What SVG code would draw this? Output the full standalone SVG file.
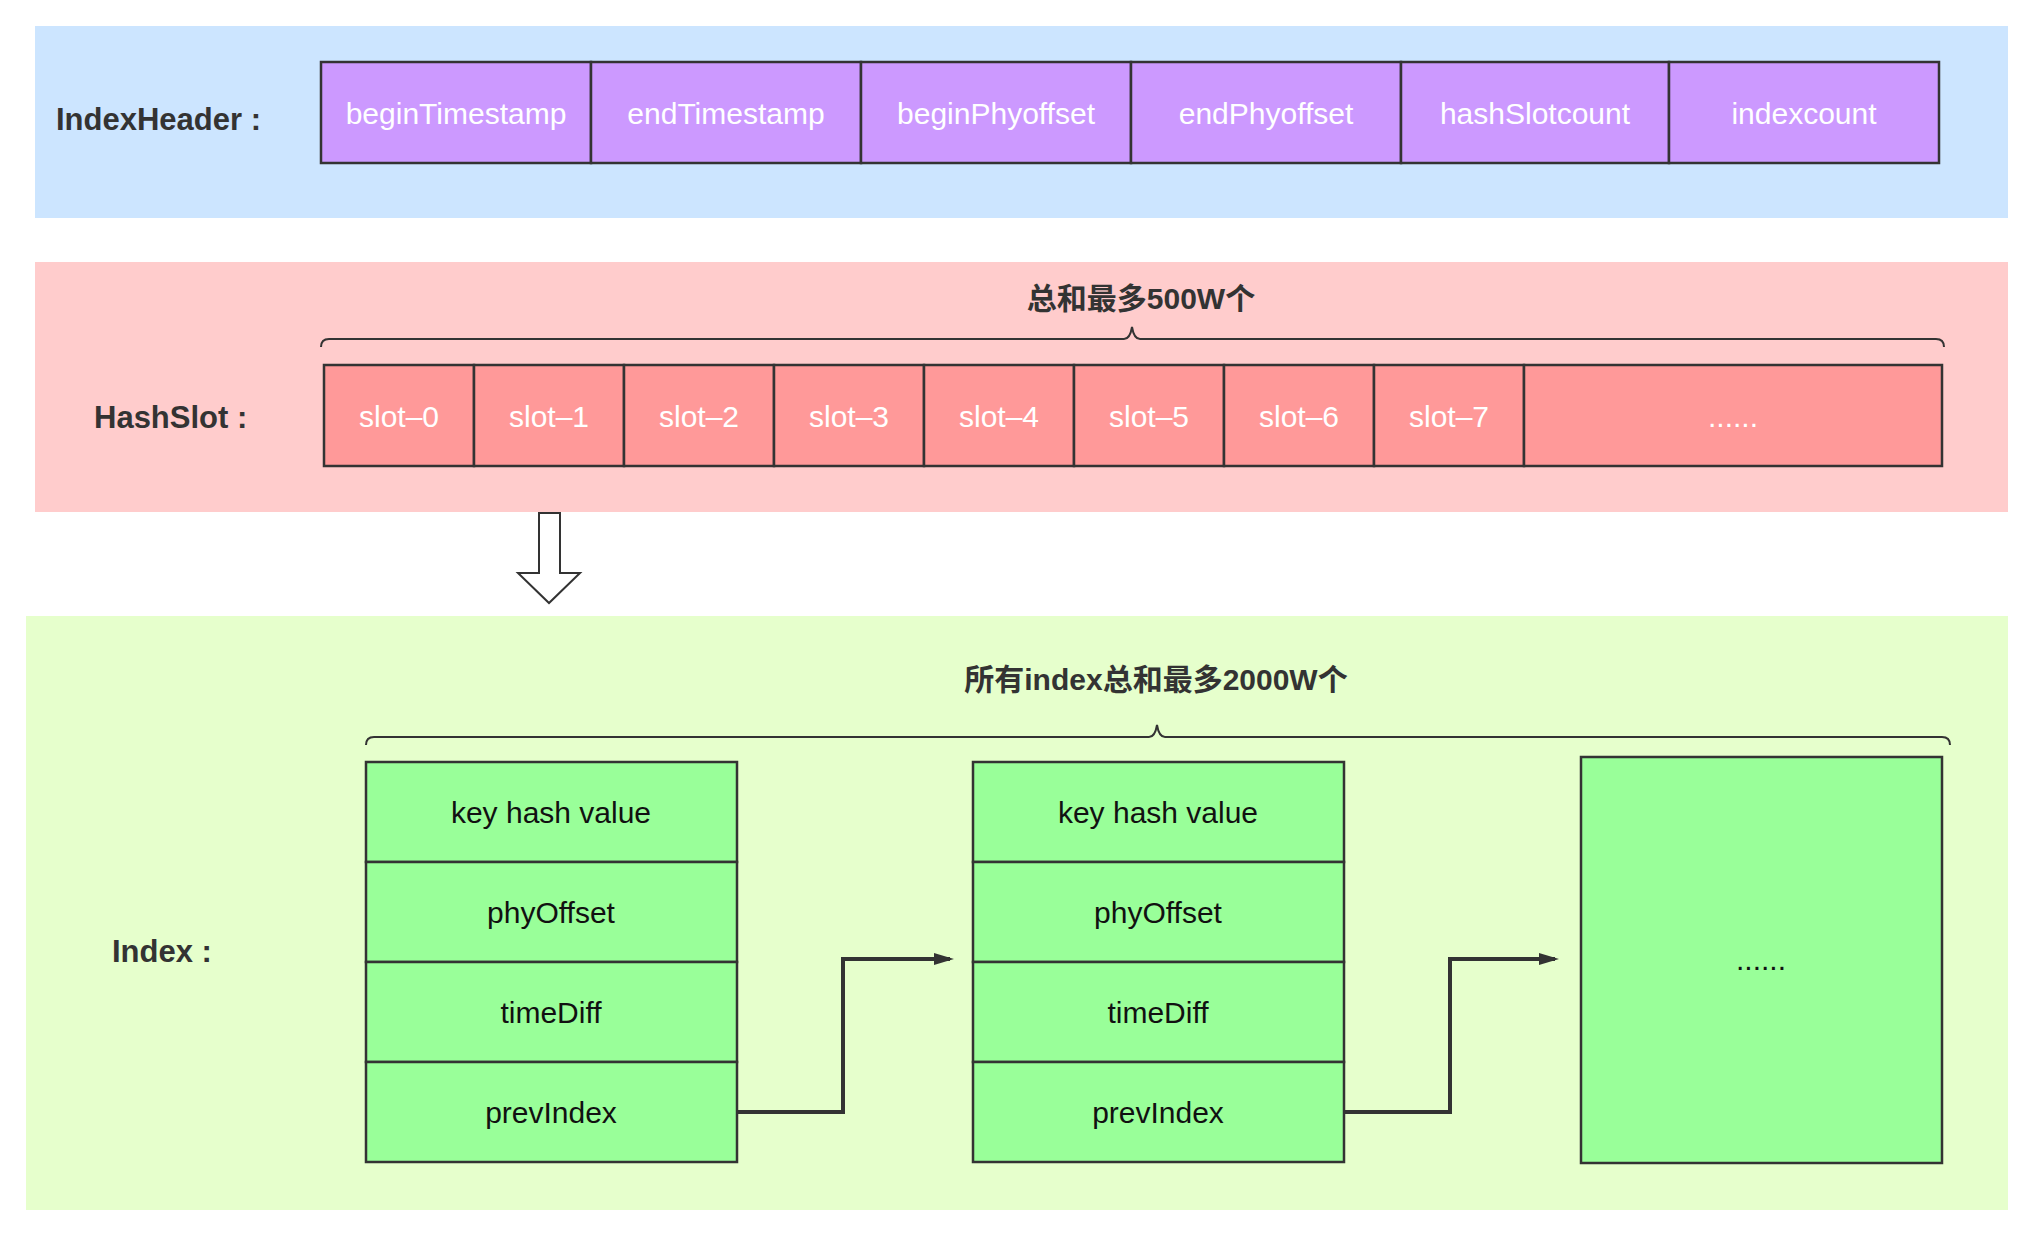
<svg xmlns="http://www.w3.org/2000/svg" width="2034" height="1234" viewBox="0 0 2034 1234">
<style>
.cell{stroke:#333;stroke-width:2.5}
.hdr{fill:#CC99FF}
.slot{fill:#FF9999}
.idx{fill:#99FF99}
.wt{font-family:"Liberation Sans",Arial,sans-serif;font-size:30px;fill:#fff;text-anchor:middle}
.bt{font-family:"Liberation Sans",Arial,sans-serif;font-size:30px;fill:#111;text-anchor:middle}
.lbl{font-family:"Liberation Sans",Arial,sans-serif;font-size:31px;font-weight:bold;fill:#333}
.cn{font-family:"Liberation Sans","Noto Sans CJK SC",sans-serif;font-size:30px;font-weight:bold;fill:#333;text-anchor:middle}
.brace{fill:none;stroke:#333;stroke-width:2}
.conn{fill:none;stroke:#333;stroke-width:4}
</style>
<defs>
<marker id="ah" markerWidth="5" markerHeight="3" refX="4" refY="1.5" orient="auto" markerUnits="strokeWidth">
<path d="M0,0 L5,1.5 L0,3 z" fill="#333"/>
</marker>
</defs>
<rect width="2034" height="1234" fill="#fff"/>
<g id="bands">
<rect x="35" y="26" width="1973" height="192" fill="#CCE5FF"/>
<rect x="35" y="262" width="1973" height="250" fill="#FFCCCC"/>
<rect x="26" y="616" width="1982" height="594" fill="#E6FFCC"/>
</g>
<g id="labels">
<text class="lbl" x="56" y="130">IndexHeader :</text>
<text class="lbl" x="94" y="428">HashSlot :</text>
<text class="lbl" x="112" y="962">Index :</text>
<text class="cn" x="1141" y="309">总和最多500W个</text>
<text class="cn" x="1156" y="690">所有index总和最多2000W个</text>
</g>
<g id="header">
<rect class="cell hdr" x="321" y="62" width="270" height="101"/>
<rect class="cell hdr" x="591" y="62" width="270" height="101"/>
<rect class="cell hdr" x="861" y="62" width="270" height="101"/>
<rect class="cell hdr" x="1131" y="62" width="270" height="101"/>
<rect class="cell hdr" x="1401" y="62" width="268" height="101"/>
<rect class="cell hdr" x="1669" y="62" width="270" height="101"/>
<text class="wt" x="456" y="124">beginTimestamp</text>
<text class="wt" x="726" y="124">endTimestamp</text>
<text class="wt" x="996" y="124">beginPhyoffset</text>
<text class="wt" x="1266" y="124">endPhyoffset</text>
<text class="wt" x="1535" y="124">hashSlotcount</text>
<text class="wt" x="1804" y="124">indexcount</text>
</g>
<g id="hashslot">
<rect class="cell slot" x="324" y="365" width="150" height="101"/>
<rect class="cell slot" x="474" y="365" width="150" height="101"/>
<rect class="cell slot" x="624" y="365" width="150" height="101"/>
<rect class="cell slot" x="774" y="365" width="150" height="101"/>
<rect class="cell slot" x="924" y="365" width="150" height="101"/>
<rect class="cell slot" x="1074" y="365" width="150" height="101"/>
<rect class="cell slot" x="1224" y="365" width="150" height="101"/>
<rect class="cell slot" x="1374" y="365" width="150" height="101"/>
<rect class="cell slot" x="1524" y="365" width="418" height="101"/>
<text class="wt" x="399" y="427">slot–0</text>
<text class="wt" x="549" y="427">slot–1</text>
<text class="wt" x="699" y="427">slot–2</text>
<text class="wt" x="849" y="427">slot–3</text>
<text class="wt" x="999" y="427">slot–4</text>
<text class="wt" x="1149" y="427">slot–5</text>
<text class="wt" x="1299" y="427">slot–6</text>
<text class="wt" x="1449" y="427">slot–7</text>
<text class="wt" x="1733" y="427">......</text>
</g>
<g id="index1">
<rect class="cell idx" x="366" y="762" width="371" height="100"/>
<rect class="cell idx" x="366" y="862" width="371" height="100"/>
<rect class="cell idx" x="366" y="962" width="371" height="100"/>
<rect class="cell idx" x="366" y="1062" width="371" height="100"/>
<text class="bt" x="551" y="823">key hash value</text>
<text class="bt" x="551" y="923">phyOffset</text>
<text class="bt" x="551" y="1023">timeDiff</text>
<text class="bt" x="551" y="1123">prevIndex</text>
</g>
<g id="index2">
<rect class="cell idx" x="973" y="762" width="371" height="100"/>
<rect class="cell idx" x="973" y="862" width="371" height="100"/>
<rect class="cell idx" x="973" y="962" width="371" height="100"/>
<rect class="cell idx" x="973" y="1062" width="371" height="100"/>
<text class="bt" x="1158" y="823">key hash value</text>
<text class="bt" x="1158" y="923">phyOffset</text>
<text class="bt" x="1158" y="1023">timeDiff</text>
<text class="bt" x="1158" y="1123">prevIndex</text>
</g>
<g id="index3">
<rect class="cell idx" x="1581" y="757" width="361" height="406"/>
<text class="bt" x="1761" y="970">......</text>
</g>
<g id="connectors">
<path class="brace" d="M321,347 Q321,339 329,339 L1124,339 Q1130,339 1132,327 Q1134,339 1140,339 L1936,339 Q1944,339 1944,347"/>
<path class="brace" d="M366,745 Q366,737 374,737 L1149,737 Q1155,737 1157,725 Q1159,737 1165,737 L1942,737 Q1950,737 1950,745"/>
<path d="M539,513 L560,513 L560,573 L580,573 L549,603 L518,573 L539,573 Z" fill="#fff" stroke="#333" stroke-width="2"/>
<path class="conn" d="M737,1112 L843,1112 L843,959 L950,959" marker-end="url(#ah)"/>
<path class="conn" d="M1344,1112 L1450,1112 L1450,959 L1555,959" marker-end="url(#ah)"/>
</g>
</svg>
